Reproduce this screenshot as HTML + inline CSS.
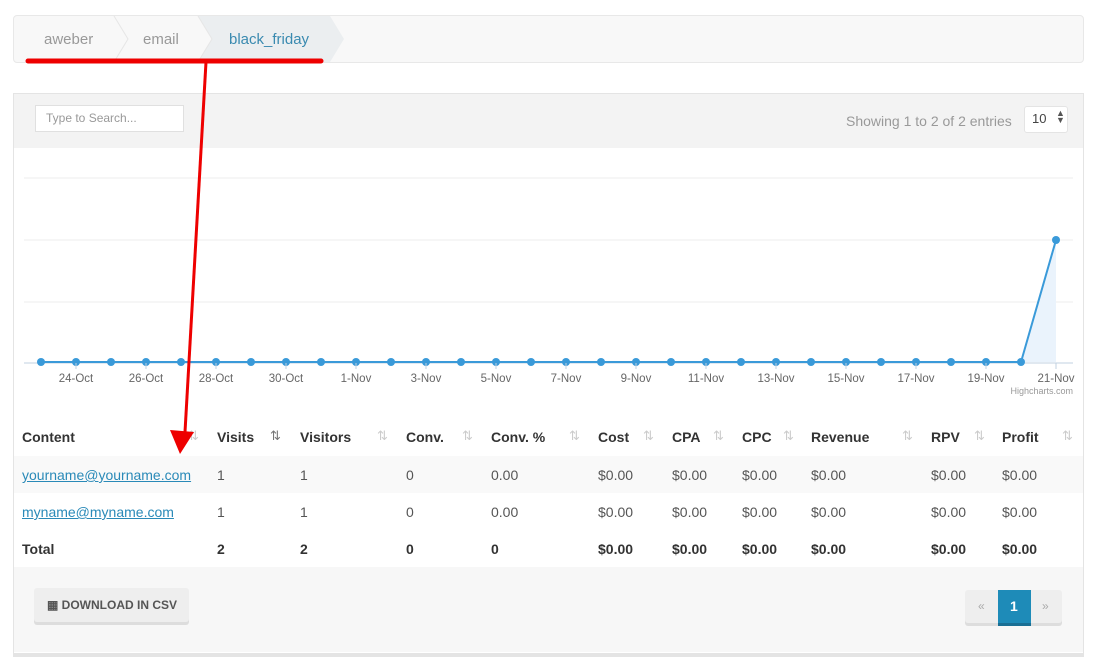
<!DOCTYPE html>
<html><head><style>
body{margin:0;width:1097px;height:669px;background:#fff;font-family:"Liberation Sans",sans-serif;position:relative;overflow:hidden}
.a{position:absolute}
.t{position:absolute;font-size:14px;color:#555;white-space:nowrap}
.h{font-weight:bold;color:#333}
.s{position:absolute;color:#ccc;font-size:13px}
a{color:#2a8ab8;text-decoration:underline}
</style></head><body>
<div class="a" style="left:13px;top:15px;width:1069px;height:46px;border:1px solid #e8e8e8;border-radius:4px;background:#f8f8f8"></div>
<svg class="a" style="left:0;top:0" width="1097" height="669">
<polygon points="198,16 330,16 344,39 330,62 198,62 212,39" fill="#ebeef0"/>
<polyline points="114,16 128,39 114,62" fill="none" stroke="#e6e6e6"/>
<polyline points="198,16 212,39 198,62" fill="none" stroke="#e6e6e6"/>
</svg>
<div class="t" style="left:44px;top:31px;color:#999;font-size:15px">aweber</div>
<div class="t" style="left:143px;top:31px;color:#999;font-size:15px">email</div>
<div class="t" style="left:229px;top:31px;color:#3a8ab0;font-size:15px">black_friday</div>

<div class="a" style="left:13px;top:93px;width:1069px;height:559px;border:1px solid #e4e4e4;background:#fff;box-shadow:0 3px 0 #e4e4e4"></div>
<div class="a" style="left:14px;top:94px;width:1069px;height:54px;background:#f3f3f3"></div>
<div class="a" style="left:35px;top:105px;width:147px;height:25px;background:#fff;border:1px solid #e0e0e0"></div>
<div class="t" style="left:46px;top:111px;font-size:12px;color:#999">Type to Search...</div>
<div class="t" style="left:846px;top:113px;color:#999">Showing 1 to 2 of 2 entries</div>
<div class="a" style="left:1024px;top:106px;width:42px;height:25px;background:#fff;border:1px solid #e4e4e4;border-radius:3px"></div>
<div class="t" style="left:1032px;top:111px;font-size:13px;color:#444">10</div>
<div class="t" style="left:1056px;top:110px;font-size:9px;color:#555;line-height:7px">▲<br>▼</div>

<svg class="a" style="left:0;top:0" width="1097" height="669">
<g stroke="#eee"><line x1="24" x2="1073" y1="178" y2="178"/><line x1="24" x2="1073" y1="240" y2="240"/><line x1="24" x2="1073" y1="302" y2="302"/></g>
<line x1="24" x2="1073" y1="363" y2="363" stroke="#c0d0e0"/>
<polygon points="1021,362 1056,240 1056,362" fill="#eaf3fc"/>
<polyline points="41,362 1021,362 1056,240" fill="none" stroke="#3a9ad9" stroke-width="2"/>
<g fill="#3a9ad9" id="d"></g>
<g id="tk" stroke="#c0d0e0"></g>
<g font-size="11.5" fill="#666" text-anchor="middle" font-family="Liberation Sans" id="lb"></g>
<text x="1073" y="394" font-size="9" fill="#999" text-anchor="end">Highcharts.com</text>
</svg>

<div class="a" style="left:14px;top:456px;width:1069px;height:37px;background:#f9f9f9"></div>
<div class="a" style="left:14px;top:567px;width:1069px;height:85px;background:#f7f7f7"></div>
<div id="tb"></div>

<div class="a" style="left:34px;top:588px;width:155px;height:34px;background:#eee;border-radius:3px;box-shadow:0 3px 0 #ddd"></div>
<div class="t h" style="left:47px;top:598px;font-size:12px;color:#555">▦ DOWNLOAD IN CSV</div>
<div class="a" style="left:965px;top:590px;width:97px;height:33px;background:#eee;border-radius:3px;box-shadow:0 3px 0 #ddd"></div>
<div class="a" style="left:998px;top:590px;width:33px;height:33px;background:#1e8bb8;box-shadow:0 3px 0 #1a6f94"></div>
<div class="t h" style="left:1010px;top:598px;color:#fff">1</div>
<div class="t" style="left:978px;top:599px;color:#aaa;font-size:12px">«</div>
<div class="t" style="left:1042px;top:599px;color:#aaa;font-size:12px">»</div>

<svg class="a" style="left:0;top:0" width="1097" height="669">
<line x1="28" y1="61" x2="321" y2="61" stroke="#e00" stroke-width="5" stroke-linecap="round"/>
<line x1="206" y1="62" x2="185" y2="432" stroke="#e00" stroke-width="3"/>
<polygon points="170,430 194,432 180,454" fill="#e00"/>
</svg>
<script>
var d=document.getElementById('d'),tk=document.getElementById('tk'),lb=document.getElementById('lb'),h='',t='',l='';
var names=['23-Oct','24-Oct','25-Oct','26-Oct','27-Oct','28-Oct','29-Oct','30-Oct','31-Oct','1-Nov','2-Nov','3-Nov','4-Nov','5-Nov','6-Nov','7-Nov','8-Nov','9-Nov','10-Nov','11-Nov','12-Nov','13-Nov','14-Nov','15-Nov','16-Nov','17-Nov','18-Nov','19-Nov','20-Nov','21-Nov'];
for(var i=0;i<30;i++){var x=41+i*35.0,y=i==29?240:362;h+='<circle cx="'+x+'" cy="'+y+'" r="4"/>';
if(i%2==1){t+='<line x1="'+x+'" x2="'+x+'" y1="363" y2="369"/>';l+='<text x="'+x+'" y="382">'+names[i]+'</text>';}}
d.innerHTML=h;tk.innerHTML=t;lb.innerHTML=l;
var cx=[22,217,300,406,491,598,672,742,811,931,1002],sx=[188,270,377,462,569,643,713,783,902,974,1062];
var hd=['Content','Visits','Visitors','Conv.','Conv. %','Cost','CPA','CPC','Revenue','RPV','Profit'];
var r1=['<a>yourname@yourname.com</a>','1','1','0','0.00','$0.00','$0.00','$0.00','$0.00','$0.00','$0.00'];
var r2=['<a>myname@myname.com</a>','1','1','0','0.00','$0.00','$0.00','$0.00','$0.00','$0.00','$0.00'];
var r3=['Total','2','2','0','0','$0.00','$0.00','$0.00','$0.00','$0.00','$0.00'];
var o='';
for(var i=0;i<11;i++){
o+='<div class="t h" style="left:'+cx[i]+'px;top:429px">'+hd[i]+'</div>';
o+='<div class="s" style="left:'+sx[i]+'px;top:428px;'+(i==1?'color:#777':'')+'">⇅</div>';
o+='<div class="t" style="left:'+cx[i]+'px;top:467px">'+r1[i]+'</div>';
o+='<div class="t" style="left:'+cx[i]+'px;top:504px">'+r2[i]+'</div>';
o+='<div class="t h" style="left:'+cx[i]+'px;top:541px">'+r3[i]+'</div>';}
document.getElementById('tb').innerHTML=o;
</script>
</body></html>
